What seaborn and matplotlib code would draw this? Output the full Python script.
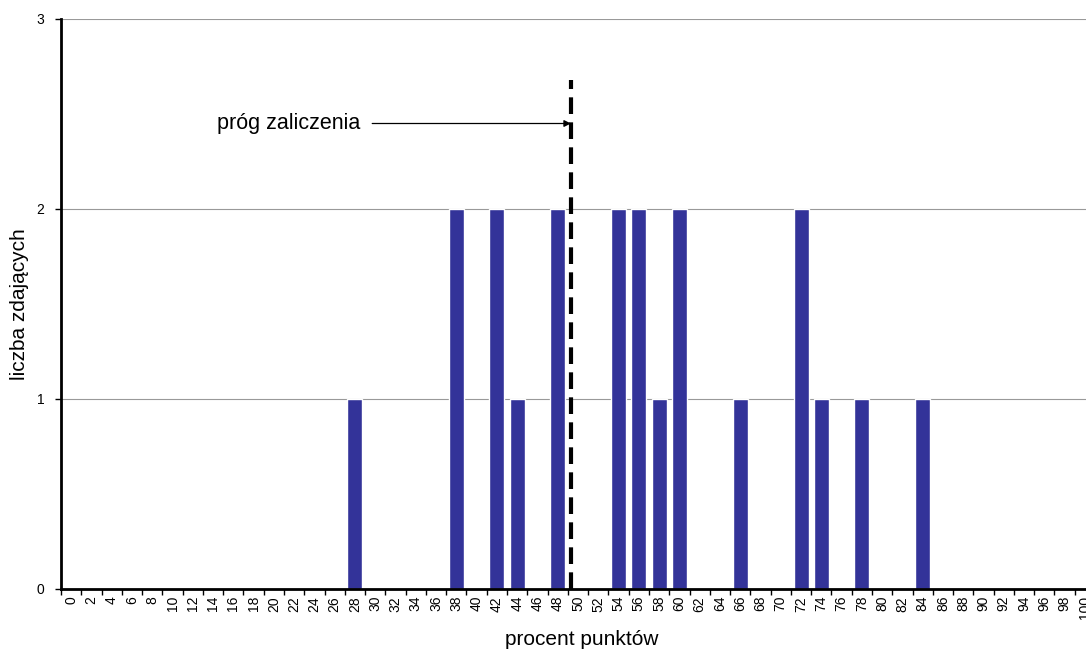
import numpy as np
import pandas as pd
import matplotlib
matplotlib.use("Agg")
import matplotlib.pyplot as plt
import seaborn as sns
from matplotlib.ticker import FixedLocator

# Data
categories = list(range(0, 101, 2))
counts = [0, 0, 0, 0, 0, 0, 0, 0, 0, 0, 0, 0, 0, 0, 1,   # 0..28
          0, 0, 0, 0, 2, 0, 2, 1, 0, 2,                   # 30..48
          0, 0, 2, 2, 1, 2, 0, 0, 1, 0, 0, 2, 1, 0, 1,    # 50..78
          0, 0, 1, 0, 0, 0, 0, 0, 0, 0, 0]                # 80..100
threshold = 49.3
threshold_label = "próg zaliczenia"
x_label = "procent punktów"
y_label = "liczba zdających"

sns.set_theme(style="white")
plt.rcParams['font.family'] = ['Liberation Sans', 'DejaVu Sans']
plt.rcParams['text.color'] = 'black'
plt.rcParams['axes.labelcolor'] = 'black'
plt.rcParams['xtick.color'] = 'black'
plt.rcParams['ytick.color'] = 'black'

df = pd.DataFrame({"pct": [str(c) for c in categories], "n": counts})

fig = plt.figure(figsize=(10.86, 6.52), dpi=100)
ax = fig.add_axes([61/1086, 63/652, (1095-61)/1086, 570/652])

sns.barplot(data=df, x="pct", y="n", order=[str(c) for c in categories],
            color="#333399", saturation=1, width=0.74, ax=ax, zorder=3)

ax.set_xlim(-0.5, len(categories) - 0.5)
ax.set_ylim(0, 3)
ax.set_yticks([0, 1, 2, 3])
ax.yaxis.grid(True, color="#999999", linewidth=0.8)
ax.set_axisbelow(True)

for s in ["top", "right"]:
    ax.spines[s].set_visible(False)
for s in ["left", "bottom"]:
    ax.spines[s].set_color("black")
    ax.spines[s].set_linewidth(2)
    ax.spines[s].set_zorder(5)

ax.tick_params(axis="x", which="major", length=0, labelsize=10, rotation=90, pad=5, labelcolor="black")
ax.xaxis.set_minor_locator(FixedLocator(np.arange(-0.5, len(categories), 1)))
ax.tick_params(axis="x", which="minor", length=4, width=1, color="black", bottom=True, direction="out")
ax.tick_params(axis="y", which="major", length=4, width=1, color="black", left=True,
               labelsize=10, direction="out", pad=8, labelcolor="black")

ax.set_xlabel(x_label, fontsize=15, color="black")
ax.set_ylabel(y_label, fontsize=15, color="black")
ax.xaxis.set_label_coords(0.504, -0.072)
ax.yaxis.set_label_coords(-0.031, 0.5)

tx = threshold / 2
ax.plot([tx, tx], [0, 2.68], color="black", linestyle=(0, (4, 2)), linewidth=3, zorder=6, clip_on=False)
ax.annotate("", xy=(tx, 2.45), xytext=(tx - 9.8, 2.45),
            arrowprops=dict(arrowstyle="-|>", color="black", lw=0.9, mutation_scale=10,
                            shrinkA=0, shrinkB=0), zorder=7)
ax.text(tx - 10.4, 2.45, threshold_label, ha="right", va="center", fontsize=15.5, color="black")

fig.savefig("out.png", dpi=100)
